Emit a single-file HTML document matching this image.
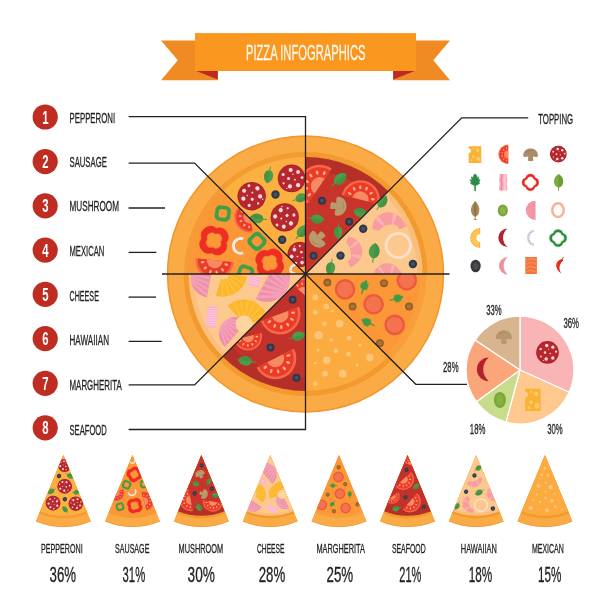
<!DOCTYPE html>
<html lang="en"><head><meta charset="utf-8"><title>Pizza Infographics</title>
<style>html,body{margin:0;padding:0;background:#fff}body{width:612px;height:612px;overflow:hidden}svg{display:block}text{font-family:"Liberation Sans",sans-serif}</style></head><body>
<svg width="612" height="612" viewBox="0 0 612 612">
<rect width="612" height="612" fill="#fff"/>
<defs>
<clipPath id="clip0"><path d="M305.5 274 L305.5 134.3 A139.7 139.7 0 0 1 404.28 175.22 Z"/></clipPath><clipPath id="clip1"><path d="M305.5 274 L404.28 175.22 A139.7 139.7 0 0 1 445.2 274 Z"/></clipPath><clipPath id="clip2"><path d="M305.5 274 L445.2 274 A139.7 139.7 0 0 1 404.28 372.78 Z"/></clipPath><clipPath id="clip3"><path d="M305.5 274 L404.28 372.78 A139.7 139.7 0 0 1 305.5 413.7 Z"/></clipPath><clipPath id="clip4"><path d="M305.5 274 L305.5 413.7 A139.7 139.7 0 0 1 206.72 372.78 Z"/></clipPath><clipPath id="clip5"><path d="M305.5 274 L206.72 372.78 A139.7 139.7 0 0 1 165.8 274 Z"/></clipPath><clipPath id="clip6"><path d="M305.5 274 L165.8 274 A139.7 139.7 0 0 1 206.72 175.22 Z"/></clipPath><clipPath id="clip7"><path d="M305.5 274 L206.72 175.22 A139.7 139.7 0 0 1 305.5 134.3 Z"/></clipPath><g id="sec0" clip-path="url(#clip0)"><circle cx="305.5" cy="274.0" r="138.7" fill="#f2952b"/><circle cx="305.5" cy="274.0" r="137.2" fill="#fbab45"/><circle cx="305.5" cy="274.0" r="122.0" fill="#f39a2f"/><circle cx="305.5" cy="274.0" r="117.0" fill="#b32f27"/><circle cx="305.5" cy="274.0" r="104" fill="#c8332a"/><g transform="translate(319.7 186) rotate(-55.6)"><path d="M-21.3 0 A21.3 21.3 0 0 1 21.3 0 Z" fill="#f4694a"/><path d="M-18.74 0 A18.74 18.74 0 0 1 18.74 0 Z" fill="#ee3a28"/><path d="M-8.95 0 A8.95 8.95 0 0 1 8.95 0 Z" fill="#f58a63"/><ellipse cx="-13.17" cy="-3.53" rx="1.28" ry="2.13" fill="#fbb58a" transform="rotate(-75 -13.17 -3.53)"/><ellipse cx="-9.64" cy="-9.64" rx="1.28" ry="2.13" fill="#fbb58a" transform="rotate(-45 -9.64 -9.64)"/><ellipse cx="-3.53" cy="-13.17" rx="1.28" ry="2.13" fill="#fbb58a" transform="rotate(-15 -3.53 -13.17)"/><ellipse cx="3.53" cy="-13.17" rx="1.28" ry="2.13" fill="#fbb58a" transform="rotate(15 3.53 -13.17)"/><ellipse cx="9.64" cy="-9.64" rx="1.28" ry="2.13" fill="#fbb58a" transform="rotate(45 9.64 -9.64)"/><ellipse cx="13.17" cy="-3.53" rx="1.28" ry="2.13" fill="#fbb58a" transform="rotate(75 13.17 -3.53)"/></g><g transform="translate(360.5 199.5) rotate(14)"><path d="M-19.3 0 A19.3 19.3 0 0 1 19.3 0 Z" fill="#f4694a"/><path d="M-16.98 0 A16.98 16.98 0 0 1 16.98 0 Z" fill="#ee3a28"/><path d="M-8.11 0 A8.11 8.11 0 0 1 8.11 0 Z" fill="#f58a63"/><ellipse cx="-11.93" cy="-3.2" rx="1.16" ry="1.93" fill="#fbb58a" transform="rotate(-75 -11.93 -3.2)"/><ellipse cx="-8.73" cy="-8.73" rx="1.16" ry="1.93" fill="#fbb58a" transform="rotate(-45 -8.73 -8.73)"/><ellipse cx="-3.2" cy="-11.93" rx="1.16" ry="1.93" fill="#fbb58a" transform="rotate(-15 -3.2 -11.93)"/><ellipse cx="3.2" cy="-11.93" rx="1.16" ry="1.93" fill="#fbb58a" transform="rotate(15 3.2 -11.93)"/><ellipse cx="8.73" cy="-8.73" rx="1.16" ry="1.93" fill="#fbb58a" transform="rotate(45 8.73 -8.73)"/><ellipse cx="11.93" cy="-3.2" rx="1.16" ry="1.93" fill="#fbb58a" transform="rotate(75 11.93 -3.2)"/></g><g transform="translate(338.2 206.3) rotate(97) scale(1.1)"><path d="M-2.6 1 L-3.2 6.2 C-3.3 7.6 3.3 7.6 3.2 6.2 L2.6 1Z" fill="#b89a6c"/><path d="M-8.5 1.2 C-9 -4.5 -4.5 -7.5 0 -7.5 C4.5 -7.5 9 -4.5 8.5 1.2 C8.4 2.6 5.5 2.8 3.2 2 C1.5 1.4 -1.5 1.4 -3.2 2 C-5.5 2.8 -8.4 2.6 -8.5 1.2Z" fill="#b89a6c"/><path d="M-5.5 -3 C-4 -5.5 1 -6.3 4 -4.5 C1 -5 -3 -4.5 -5.5 -3Z" fill="#a88a5e"/></g><g transform="translate(317.8 238.7) rotate(-133) scale(1.1)"><path d="M-2.6 1 L-3.2 6.2 C-3.3 7.6 3.3 7.6 3.2 6.2 L2.6 1Z" fill="#b89a6c"/><path d="M-8.5 1.2 C-9 -4.5 -4.5 -7.5 0 -7.5 C4.5 -7.5 9 -4.5 8.5 1.2 C8.4 2.6 5.5 2.8 3.2 2 C1.5 1.4 -1.5 1.4 -3.2 2 C-5.5 2.8 -8.4 2.6 -8.5 1.2Z" fill="#b89a6c"/><path d="M-5.5 -3 C-4 -5.5 1 -6.3 4 -4.5 C1 -5 -3 -4.5 -5.5 -3Z" fill="#a88a5e"/></g><g transform="translate(340.3 178.7) rotate(50) scale(0.95)"><path d="M0 -8 C4.5 -5.5 6 -1 5 3 C4 6.5 1.5 7.5 0 7.5 C-1.5 7.5 -4 6.5 -5 3 C-6 -1 -4.5 -5.5 0 -8Z" fill="#4c9c49"/><path d="M0 -8 C4.5 -5.5 6 -1 5 3 C4 6.5 1.5 7.5 0 7.5Z" fill="#3f8a3f" opacity=".55"/><path d="M0 6 L0 11.5" stroke="#4c9c49" stroke-width="1.1" fill="none" stroke-linecap="round"/></g><g transform="translate(317.5 219) rotate(97) scale(0.85)"><path d="M0 -8 C4.5 -5.5 6 -1 5 3 C4 6.5 1.5 7.5 0 7.5 C-1.5 7.5 -4 6.5 -5 3 C-6 -1 -4.5 -5.5 0 -8Z" fill="#4c9c49"/><path d="M0 -8 C4.5 -5.5 6 -1 5 3 C4 6.5 1.5 7.5 0 7.5Z" fill="#3f8a3f" opacity=".55"/><path d="M0 6 L0 11.5" stroke="#4c9c49" stroke-width="1.1" fill="none" stroke-linecap="round"/></g><g transform="translate(360 212.5) rotate(-75) scale(0.85)"><path d="M0 -8 C4.5 -5.5 6 -1 5 3 C4 6.5 1.5 7.5 0 7.5 C-1.5 7.5 -4 6.5 -5 3 C-6 -1 -4.5 -5.5 0 -8Z" fill="#4c9c49"/><path d="M0 -8 C4.5 -5.5 6 -1 5 3 C4 6.5 1.5 7.5 0 7.5Z" fill="#3f8a3f" opacity=".55"/><path d="M0 6 L0 11.5" stroke="#4c9c49" stroke-width="1.1" fill="none" stroke-linecap="round"/></g><g transform="translate(338.2 232.5) rotate(183) scale(0.8)"><path d="M0 -8 C4.5 -5.5 6 -1 5 3 C4 6.5 1.5 7.5 0 7.5 C-1.5 7.5 -4 6.5 -5 3 C-6 -1 -4.5 -5.5 0 -8Z" fill="#4c9c49"/><path d="M0 -8 C4.5 -5.5 6 -1 5 3 C4 6.5 1.5 7.5 0 7.5Z" fill="#3f8a3f" opacity=".55"/><path d="M0 6 L0 11.5" stroke="#4c9c49" stroke-width="1.1" fill="none" stroke-linecap="round"/></g><g transform="translate(383.5 202) rotate(35) scale(0.85)"><path d="M0 -8 C4.5 -5.5 6 -1 5 3 C4 6.5 1.5 7.5 0 7.5 C-1.5 7.5 -4 6.5 -5 3 C-6 -1 -4.5 -5.5 0 -8Z" fill="#4c9c49"/><path d="M0 -8 C4.5 -5.5 6 -1 5 3 C4 6.5 1.5 7.5 0 7.5Z" fill="#3f8a3f" opacity=".55"/><path d="M0 6 L0 11.5" stroke="#4c9c49" stroke-width="1.1" fill="none" stroke-linecap="round"/></g><circle cx="322" cy="200.7" r="4" fill="#2f3648"/><circle cx="322" cy="200.7" r="2" fill="#475069"/><circle cx="349.2" cy="221.8" r="4" fill="#2f3648"/><circle cx="349.2" cy="221.8" r="2" fill="#475069"/><circle cx="313.5" cy="255.8" r="4" fill="#2f3648"/><circle cx="313.5" cy="255.8" r="2" fill="#475069"/></g><g id="sec1" clip-path="url(#clip1)"><circle cx="305.5" cy="274.0" r="138.7" fill="#f2952b"/><circle cx="305.5" cy="274.0" r="137.2" fill="#fbab45"/><circle cx="305.5" cy="274.0" r="122.0" fill="#f39a2f"/><circle cx="305.5" cy="274.0" r="117.0" fill="#f9bd7c"/><circle cx="305.5" cy="274.0" r="112" fill="#fcc88e"/><g transform="translate(389.5 232.5)"><path d="M-16.52 -4.12 L-16.35 -5.95 L-15.96 -7.79 L-15.35 -9.59 L-14.52 -11.34 L-13.46 -13 L-12.19 -14.53 L-10.72 -15.9 L-9.08 -17.07 L-7.28 -18.03 L-5.37 -18.74 L-3.38 -19.19 L-1.36 -19.38 L0.67 -19.31 L2.67 -18.97 L4.58 -18.38 L6.39 -17.55 L8.06 -16.53 L9.57 -15.32 L10.9 -13.96 L12.05 -12.48 L13.04 -10.94 L14.11 -9.52 L15.03 -7.99 L15.79 -6.38 L10.18 -4.11 L9.69 -5.15 L9.1 -6.14 L8.41 -7.05 L7.4 -7.66 L6.33 -8.11 L5.27 -8.43 L4.21 -8.64 L3.19 -8.76 L2.19 -8.79 L1.23 -8.76 L0.3 -8.68 L-0.6 -8.55 L-1.48 -8.38 L-2.34 -8.18 L-3.21 -7.93 L-4.07 -7.65 L-4.93 -7.32 L-5.81 -6.92 L-6.68 -6.45 L-7.54 -5.89 L-8.39 -5.24 L-9.2 -4.49 L-9.96 -3.63 L-10.65 -2.66Z" fill="#f89d9f" stroke="#f89d9f" stroke-width="1.6" stroke-linejoin="round"/><path d="M-14.09 -13.05 L-10.8 -15.87 L-4.56 -7.52 L-6.14 -6.31Z" fill="#fbb6b3" opacity=".8"/><path d="M3.47 -18.88 L7.61 -17.63 L3.91 -7.88 L2.04 -8.56Z" fill="#fbb6b3" opacity=".8"/></g><g transform="translate(343 252.5)"><path d="M6.09 -15.07 L7.62 -14.74 L9.13 -14.24 L10.61 -13.58 L12.03 -12.75 L13.36 -11.75 L14.58 -10.59 L15.66 -9.29 L16.59 -7.85 L17.34 -6.31 L17.89 -4.68 L18.25 -3 L18.39 -1.29 L18.33 0.43 L18.06 2.11 L17.6 3.74 L16.95 5.29 L16.14 6.74 L15.18 8.07 L14.1 9.27 L12.92 10.34 L11.69 11.29 L10.59 12.33 L9.4 13.26 L8.12 14.07 L5.37 9.31 L6.22 8.77 L7.01 8.15 L7.73 7.47 L8.16 6.53 L8.46 5.56 L8.66 4.6 L8.78 3.67 L8.82 2.75 L8.81 1.87 L8.76 1.02 L8.66 0.2 L8.54 -0.6 L8.4 -1.38 L8.23 -2.15 L8.04 -2.93 L7.82 -3.7 L7.56 -4.49 L7.27 -5.28 L6.92 -6.08 L6.5 -6.89 L6.01 -7.7 L5.44 -8.49 L4.78 -9.25 L4.03 -9.97Z" fill="#f89d9f" stroke="#f89d9f" stroke-width="1.6" stroke-linejoin="round"/><path d="M13.44 -12.27 L15.62 -9.34 L7.78 -4.12 L6.8 -5.59Z" fill="#fbb6b3" opacity=".8"/><path d="M17.99 2.78 L17.07 6.32 L8.08 3.48 L8.61 1.8Z" fill="#fbb6b3" opacity=".8"/></g><g transform="translate(388 282)"><path d="M-13.64 -7.88 L-13.18 -9.23 L-12.58 -10.55 L-11.83 -11.83 L-10.94 -13.04 L-9.92 -14.16 L-8.76 -15.17 L-7.48 -16.05 L-6.11 -16.77 L-4.65 -17.34 L-3.12 -17.72 L-1.57 -17.92 L0 -17.94 L1.55 -17.77 L3.07 -17.42 L4.53 -16.89 L5.9 -16.21 L7.18 -15.4 L8.35 -14.46 L9.39 -13.41 L10.31 -12.29 L11.14 -11.14 L12.07 -10.12 L12.9 -9.03 L13.64 -7.88 L8.88 -5.13 L8.4 -5.88 L7.85 -6.59 L7.25 -7.25 L6.4 -7.63 L5.52 -7.88 L4.65 -8.06 L3.81 -8.17 L2.99 -8.22 L2.2 -8.22 L1.44 -8.19 L0.71 -8.13 L0 -8.06 L-0.7 -7.98 L-1.39 -7.88 L-2.08 -7.78 L-2.79 -7.66 L-3.51 -7.52 L-4.24 -7.35 L-5 -7.14 L-5.77 -6.88 L-6.55 -6.55 L-7.34 -6.16 L-8.12 -5.69 L-8.88 -5.13Z" fill="#f89d9f" stroke="#f89d9f" stroke-width="1.6" stroke-linejoin="round"/><path d="M-10.4 -14.32 L-7.54 -16.02 L-3.14 -7.68 L-4.52 -6.96Z" fill="#fbb6b3" opacity=".8"/><path d="M3.68 -17.31 L6.86 -16.32 L3.61 -7.47 L2.15 -8.02Z" fill="#fbb6b3" opacity=".8"/></g><circle cx="398.3" cy="245.5" r="12.15" fill="none" stroke="#fde0c6" stroke-width="2.9"/><g transform="translate(374.3 250.8) rotate(8)"><path d="M0 -8 C4.5 -5.5 6 -1 5 3 C4 6.5 1.5 7.5 0 7.5 C-1.5 7.5 -4 6.5 -5 3 C-6 -1 -4.5 -5.5 0 -8Z" fill="#4c9c49"/><path d="M0 -8 C4.5 -5.5 6 -1 5 3 C4 6.5 1.5 7.5 0 7.5Z" fill="#3f8a3f" opacity=".55"/><path d="M0 6 L0 11.5" stroke="#4c9c49" stroke-width="1.1" fill="none" stroke-linecap="round"/></g><g transform="translate(382.5 201.5) rotate(35) scale(0.85)"><path d="M0 -8 C4.5 -5.5 6 -1 5 3 C4 6.5 1.5 7.5 0 7.5 C-1.5 7.5 -4 6.5 -5 3 C-6 -1 -4.5 -5.5 0 -8Z" fill="#4c9c49"/><path d="M0 -8 C4.5 -5.5 6 -1 5 3 C4 6.5 1.5 7.5 0 7.5Z" fill="#3f8a3f" opacity=".55"/><path d="M0 6 L0 11.5" stroke="#4c9c49" stroke-width="1.1" fill="none" stroke-linecap="round"/></g><g transform="translate(330.5 268.6) rotate(190) scale(0.85)"><path d="M0 -8 C4.5 -5.5 6 -1 5 3 C4 6.5 1.5 7.5 0 7.5 C-1.5 7.5 -4 6.5 -5 3 C-6 -1 -4.5 -5.5 0 -8Z" fill="#4c9c49"/><path d="M0 -8 C4.5 -5.5 6 -1 5 3 C4 6.5 1.5 7.5 0 7.5Z" fill="#3f8a3f" opacity=".55"/><path d="M0 6 L0 11.5" stroke="#4c9c49" stroke-width="1.1" fill="none" stroke-linecap="round"/></g><circle cx="363.2" cy="228.8" r="4.2" fill="#2f3648"/><circle cx="363.2" cy="228.8" r="2.1" fill="#475069"/><circle cx="412.9" cy="264" r="4.2" fill="#2f3648"/><circle cx="412.9" cy="264" r="2.1" fill="#475069"/><circle cx="340.5" cy="255.6" r="4.2" fill="#2f3648"/><circle cx="340.5" cy="255.6" r="2.1" fill="#475069"/></g><g id="sec2" clip-path="url(#clip2)"><circle cx="305.5" cy="274.0" r="138.7" fill="#f2952b"/><circle cx="305.5" cy="274.0" r="137.2" fill="#fbab45"/><circle cx="305.5" cy="274.0" r="121" fill="#f89f3c"/><circle cx="305.5" cy="274.0" r="114.5" fill="#fb9737"/><circle cx="345" cy="289.4" r="10.3" fill="#ea5a3c"/><circle cx="345" cy="289.4" r="7.93" fill="#f5724f"/><circle cx="373.6" cy="304.3" r="10.3" fill="#ea5a3c"/><circle cx="373.6" cy="304.3" r="7.93" fill="#f5724f"/><circle cx="394.7" cy="324.9" r="10.3" fill="#ea5a3c"/><circle cx="394.7" cy="324.9" r="7.93" fill="#f5724f"/><circle cx="406.8" cy="280.3" r="10.3" fill="#ea5a3c"/><circle cx="406.8" cy="280.3" r="7.93" fill="#f5724f"/><circle cx="327.4" cy="282.6" r="4" fill="#93602a"/><circle cx="327.4" cy="282.6" r="2.2" fill="#a8743a"/><circle cx="384" cy="283.3" r="4" fill="#93602a"/><circle cx="384" cy="283.3" r="2.2" fill="#a8743a"/><circle cx="352.6" cy="306.6" r="4" fill="#93602a"/><circle cx="352.6" cy="306.6" r="2.2" fill="#a8743a"/><circle cx="409" cy="306.6" r="4" fill="#93602a"/><circle cx="409" cy="306.6" r="2.2" fill="#a8743a"/><circle cx="379.8" cy="343.2" r="4" fill="#93602a"/><circle cx="379.8" cy="343.2" r="2.2" fill="#a8743a"/><g transform="translate(364 287) rotate(20) scale(0.82)"><path d="M0 -8.6 L1.3 -7.2 L2 -5.6 L1.7 -4.6 L3.9 -5.4 L3.4 -3.4 L2.9 -2.4 L5 -2.8 L4.3 -0.9 L3.4 0.2 L4.9 0.6 L3.4 2 L1.6 2.8 L0.55 3.6 L0.5 8.6 L-0.5 8.6 L-0.55 3.6 L-1.6 2.8 L-3.4 2 L-4.9 0.6 L-3.4 0.2 L-4.3 -0.9 L-5 -2.8 L-2.9 -2.4 L-3.4 -3.4 L-3.9 -5.4 L-1.7 -4.6 L-2 -5.6 L-1.3 -7.2 L0 -8.6Z" fill="#3d9a45" stroke="#3d9a45" stroke-width="0.5" stroke-linejoin="round"/></g><g transform="translate(396.5 298.6) rotate(75) scale(0.8)"><path d="M0 -8.6 L1.3 -7.2 L2 -5.6 L1.7 -4.6 L3.9 -5.4 L3.4 -3.4 L2.9 -2.4 L5 -2.8 L4.3 -0.9 L3.4 0.2 L4.9 0.6 L3.4 2 L1.6 2.8 L0.55 3.6 L0.5 8.6 L-0.5 8.6 L-0.55 3.6 L-1.6 2.8 L-3.4 2 L-4.9 0.6 L-3.4 0.2 L-4.3 -0.9 L-5 -2.8 L-2.9 -2.4 L-3.4 -3.4 L-3.9 -5.4 L-1.7 -4.6 L-2 -5.6 L-1.3 -7.2 L0 -8.6Z" fill="#3d9a45" stroke="#3d9a45" stroke-width="0.5" stroke-linejoin="round"/></g><g transform="translate(368 322.6) rotate(-65) scale(0.82)"><path d="M0 -8.6 L1.3 -7.2 L2 -5.6 L1.7 -4.6 L3.9 -5.4 L3.4 -3.4 L2.9 -2.4 L5 -2.8 L4.3 -0.9 L3.4 0.2 L4.9 0.6 L3.4 2 L1.6 2.8 L0.55 3.6 L0.5 8.6 L-0.5 8.6 L-0.55 3.6 L-1.6 2.8 L-3.4 2 L-4.9 0.6 L-3.4 0.2 L-4.3 -0.9 L-5 -2.8 L-2.9 -2.4 L-3.4 -3.4 L-3.9 -5.4 L-1.7 -4.6 L-2 -5.6 L-1.3 -7.2 L0 -8.6Z" fill="#3d9a45" stroke="#3d9a45" stroke-width="0.5" stroke-linejoin="round"/></g></g><g id="sec3" clip-path="url(#clip3)"><circle cx="305.5" cy="274.0" r="138.7" fill="#f2952b"/><circle cx="305.5" cy="274.0" r="137.2" fill="#fbab45"/><circle cx="305.5" cy="274.0" r="122.0" fill="#f39a2f"/><circle cx="305.5" cy="274.0" r="117.0" fill="#fbab40"/><circle cx="315.3" cy="297.45" r="2.85" fill="#fcc578"/><circle cx="326.28" cy="306.6" r="2.85" fill="#fcc578"/><circle cx="315.3" cy="312.32" r="2.38" fill="#fcc578"/><circle cx="339.77" cy="323.76" r="3.8" fill="#fcc578"/><circle cx="324.45" cy="323.76" r="2.38" fill="#fcc578"/><circle cx="318.73" cy="335.2" r="4.27" fill="#fcc578"/><circle cx="348.93" cy="338.18" r="2.38" fill="#fcc578"/><circle cx="331.31" cy="339.78" r="1.9" fill="#fcc578"/><circle cx="335.89" cy="350.76" r="2.38" fill="#fcc578"/><circle cx="318.04" cy="350.07" r="1.42" fill="#fcc578"/><circle cx="348.47" cy="354.19" r="2.38" fill="#fcc578"/><circle cx="369.74" cy="357.62" r="3.8" fill="#fcc578"/><circle cx="326.73" cy="360.37" r="3.8" fill="#fcc578"/><circle cx="315.3" cy="363.11" r="1.42" fill="#fcc578"/><circle cx="357.16" cy="364.94" r="1.42" fill="#fcc578"/><circle cx="342.75" cy="373.64" r="3.8" fill="#fcc578"/><circle cx="325.13" cy="373.64" r="2.85" fill="#fcc578"/><circle cx="315.3" cy="383.7" r="2.38" fill="#fcc578"/><circle cx="359.91" cy="345.5" r="1.71" fill="#fcc578"/><circle cx="332.45" cy="311.18" r="1.42" fill="#fcc578"/></g><g id="sec4" clip-path="url(#clip4)"><circle cx="305.5" cy="274.0" r="138.7" fill="#f2952b"/><circle cx="305.5" cy="274.0" r="137.2" fill="#fbab45"/><circle cx="305.5" cy="274.0" r="122.0" fill="#f39a2f"/><circle cx="305.5" cy="274.0" r="117.0" fill="#b32f27"/><circle cx="305.5" cy="274.0" r="104" fill="#c2322a"/><g transform="translate(280 314) rotate(159)"><path d="M-20.5 0 A20.5 20.5 0 0 1 20.5 0 Z" fill="#f4694a"/><path d="M-18.04 0 A18.04 18.04 0 0 1 18.04 0 Z" fill="#ee3a28"/><path d="M-8.61 0 A8.61 8.61 0 0 1 8.61 0 Z" fill="#f58a63"/><ellipse cx="-12.67" cy="-3.4" rx="1.23" ry="2.05" fill="#fbb58a" transform="rotate(-75 -12.67 -3.4)"/><ellipse cx="-9.28" cy="-9.28" rx="1.23" ry="2.05" fill="#fbb58a" transform="rotate(-45 -9.28 -9.28)"/><ellipse cx="-3.4" cy="-12.67" rx="1.23" ry="2.05" fill="#fbb58a" transform="rotate(-15 -3.4 -12.67)"/><ellipse cx="3.4" cy="-12.67" rx="1.23" ry="2.05" fill="#fbb58a" transform="rotate(15 3.4 -12.67)"/><ellipse cx="9.28" cy="-9.28" rx="1.23" ry="2.05" fill="#fbb58a" transform="rotate(45 9.28 -9.28)"/><ellipse cx="12.67" cy="-3.4" rx="1.23" ry="2.05" fill="#fbb58a" transform="rotate(75 12.67 -3.4)"/></g><g transform="translate(248 336.5) rotate(166)"><path d="M-14 0 A14 14 0 0 1 14 0 Z" fill="#f4694a"/><path d="M-12.32 0 A12.32 12.32 0 0 1 12.32 0 Z" fill="#ee3a28"/><path d="M-5.88 0 A5.88 5.88 0 0 1 5.88 0 Z" fill="#f58a63"/><ellipse cx="-8.65" cy="-2.32" rx="0.84" ry="1.4" fill="#fbb58a" transform="rotate(-75 -8.65 -2.32)"/><ellipse cx="-6.34" cy="-6.34" rx="0.84" ry="1.4" fill="#fbb58a" transform="rotate(-45 -6.34 -6.34)"/><ellipse cx="-2.32" cy="-8.65" rx="0.84" ry="1.4" fill="#fbb58a" transform="rotate(-15 -2.32 -8.65)"/><ellipse cx="2.32" cy="-8.65" rx="0.84" ry="1.4" fill="#fbb58a" transform="rotate(15 2.32 -8.65)"/><ellipse cx="6.34" cy="-6.34" rx="0.84" ry="1.4" fill="#fbb58a" transform="rotate(45 6.34 -6.34)"/><ellipse cx="8.65" cy="-2.32" rx="0.84" ry="1.4" fill="#fbb58a" transform="rotate(75 8.65 -2.32)"/></g><g transform="translate(275.3 358.3) rotate(153)"><path d="M-21 0 A21 21 0 0 1 21 0 Z" fill="#f4694a"/><path d="M-18.48 0 A18.48 18.48 0 0 1 18.48 0 Z" fill="#ee3a28"/><path d="M-8.82 0 A8.82 8.82 0 0 1 8.82 0 Z" fill="#f58a63"/><ellipse cx="-12.98" cy="-3.48" rx="1.26" ry="2.1" fill="#fbb58a" transform="rotate(-75 -12.98 -3.48)"/><ellipse cx="-9.5" cy="-9.5" rx="1.26" ry="2.1" fill="#fbb58a" transform="rotate(-45 -9.5 -9.5)"/><ellipse cx="-3.48" cy="-12.98" rx="1.26" ry="2.1" fill="#fbb58a" transform="rotate(-15 -3.48 -12.98)"/><ellipse cx="3.48" cy="-12.98" rx="1.26" ry="2.1" fill="#fbb58a" transform="rotate(15 3.48 -12.98)"/><ellipse cx="9.5" cy="-9.5" rx="1.26" ry="2.1" fill="#fbb58a" transform="rotate(45 9.5 -9.5)"/><ellipse cx="12.98" cy="-3.48" rx="1.26" ry="2.1" fill="#fbb58a" transform="rotate(75 12.98 -3.48)"/></g><g transform="translate(303 293.4) rotate(40)"><path d="M-15 0 A15 15 0 0 1 15 0 Z" fill="#f4694a"/><path d="M-13.2 0 A13.2 13.2 0 0 1 13.2 0 Z" fill="#ee3a28"/><path d="M-6.3 0 A6.3 6.3 0 0 1 6.3 0 Z" fill="#f58a63"/><ellipse cx="-9.27" cy="-2.48" rx="0.9" ry="1.5" fill="#fbb58a" transform="rotate(-75 -9.27 -2.48)"/><ellipse cx="-6.79" cy="-6.79" rx="0.9" ry="1.5" fill="#fbb58a" transform="rotate(-45 -6.79 -6.79)"/><ellipse cx="-2.48" cy="-9.27" rx="0.9" ry="1.5" fill="#fbb58a" transform="rotate(-15 -2.48 -9.27)"/><ellipse cx="2.48" cy="-9.27" rx="0.9" ry="1.5" fill="#fbb58a" transform="rotate(15 2.48 -9.27)"/><ellipse cx="6.79" cy="-6.79" rx="0.9" ry="1.5" fill="#fbb58a" transform="rotate(45 6.79 -6.79)"/><ellipse cx="9.27" cy="-2.48" rx="0.9" ry="1.5" fill="#fbb58a" transform="rotate(75 9.27 -2.48)"/></g><circle cx="292.6" cy="299.7" r="4" fill="#2f3648"/><circle cx="292.6" cy="299.7" r="2" fill="#475069"/><circle cx="270.5" cy="347.6" r="4" fill="#2f3648"/><circle cx="270.5" cy="347.6" r="2" fill="#475069"/><circle cx="296.5" cy="377.8" r="4" fill="#2f3648"/><circle cx="296.5" cy="377.8" r="2" fill="#475069"/><g transform="translate(298.5 336.1) rotate(75) scale(0.85)"><path d="M0 -8 C4.5 -5.5 6 -1 5 3 C4 6.5 1.5 7.5 0 7.5 C-1.5 7.5 -4 6.5 -5 3 C-6 -1 -4.5 -5.5 0 -8Z" fill="#4c9c49"/><path d="M0 -8 C4.5 -5.5 6 -1 5 3 C4 6.5 1.5 7.5 0 7.5Z" fill="#3f8a3f" opacity=".55"/><path d="M0 6 L0 11.5" stroke="#4c9c49" stroke-width="1.1" fill="none" stroke-linecap="round"/></g><g transform="translate(245 360.8) rotate(-82) scale(0.9)"><path d="M0 -8 C4.5 -5.5 6 -1 5 3 C4 6.5 1.5 7.5 0 7.5 C-1.5 7.5 -4 6.5 -5 3 C-6 -1 -4.5 -5.5 0 -8Z" fill="#4c9c49"/><path d="M0 -8 C4.5 -5.5 6 -1 5 3 C4 6.5 1.5 7.5 0 7.5Z" fill="#3f8a3f" opacity=".55"/><path d="M0 6 L0 11.5" stroke="#4c9c49" stroke-width="1.1" fill="none" stroke-linecap="round"/></g></g><g id="sec5" clip-path="url(#clip5)"><circle cx="305.5" cy="274.0" r="138.7" fill="#f2952b"/><circle cx="305.5" cy="274.0" r="137.2" fill="#fbab45"/><circle cx="305.5" cy="274.0" r="122.0" fill="#f39a2f"/><circle cx="305.5" cy="274.0" r="117.0" fill="#fbbf7e"/><circle cx="305.5" cy="274.0" r="112" fill="#fdc98f"/><g transform="translate(210.5 278.2) rotate(-79)"><clipPath id="hc78571"><path d="M-19.6 0 A19.6 19.6 0 0 1 19.6 0 Z"/></clipPath><path d="M-19.6 0 A19.6 19.6 0 0 1 19.6 0 Z" fill="#ee8fa8"/><g clip-path="url(#hc78571)"><path d="M-17.64 0 L-6.17 -19.6" stroke="#f4a6bd" stroke-width="2.55" fill="none" opacity=".75"/><path d="M-11.76 0 L-4.12 -19.6" stroke="#f4a6bd" stroke-width="2.55" fill="none" opacity=".75"/><path d="M-5.88 0 L-2.06 -19.6" stroke="#f4a6bd" stroke-width="2.55" fill="none" opacity=".75"/><path d="M0 0 L0 -19.6" stroke="#f4a6bd" stroke-width="2.55" fill="none" opacity=".75"/><path d="M5.88 0 L2.06 -19.6" stroke="#f4a6bd" stroke-width="2.55" fill="none" opacity=".75"/><path d="M11.76 0 L4.12 -19.6" stroke="#f4a6bd" stroke-width="2.55" fill="none" opacity=".75"/><path d="M17.64 0 L6.17 -19.6" stroke="#f4a6bd" stroke-width="2.55" fill="none" opacity=".75"/></g></g><g transform="translate(266.8 278.8) rotate(119)"><clipPath id="hc23647"><path d="M-23 0 A23 23 0 0 1 23 0 Z"/></clipPath><path d="M-23 0 A23 23 0 0 1 23 0 Z" fill="#ee8fa8"/><g clip-path="url(#hc23647)"><path d="M-20.7 0 L-7.24 -23" stroke="#f4a6bd" stroke-width="2.99" fill="none" opacity=".75"/><path d="M-13.8 0 L-4.83 -23" stroke="#f4a6bd" stroke-width="2.99" fill="none" opacity=".75"/><path d="M-6.9 0 L-2.41 -23" stroke="#f4a6bd" stroke-width="2.99" fill="none" opacity=".75"/><path d="M0 0 L0 -23" stroke="#f4a6bd" stroke-width="2.99" fill="none" opacity=".75"/><path d="M6.9 0 L2.41 -23" stroke="#f4a6bd" stroke-width="2.99" fill="none" opacity=".75"/><path d="M13.8 0 L4.83 -23" stroke="#f4a6bd" stroke-width="2.99" fill="none" opacity=".75"/><path d="M20.7 0 L7.24 -23" stroke="#f4a6bd" stroke-width="2.99" fill="none" opacity=".75"/></g></g><g transform="translate(236 334) rotate(-50)"><clipPath id="hc45052"><path d="M-17 0 A17 17 0 0 1 17 0 Z"/></clipPath><path d="M-17 0 A17 17 0 0 1 17 0 Z" fill="#ee8fa8"/><g clip-path="url(#hc45052)"><path d="M-15.3 0 L-5.35 -17" stroke="#f4a6bd" stroke-width="2.21" fill="none" opacity=".75"/><path d="M-10.2 0 L-3.57 -17" stroke="#f4a6bd" stroke-width="2.21" fill="none" opacity=".75"/><path d="M-5.1 0 L-1.78 -17" stroke="#f4a6bd" stroke-width="2.21" fill="none" opacity=".75"/><path d="M0 0 L0 -17" stroke="#f4a6bd" stroke-width="2.21" fill="none" opacity=".75"/><path d="M5.1 0 L1.78 -17" stroke="#f4a6bd" stroke-width="2.21" fill="none" opacity=".75"/><path d="M10.2 0 L3.57 -17" stroke="#f4a6bd" stroke-width="2.21" fill="none" opacity=".75"/><path d="M15.3 0 L5.35 -17" stroke="#f4a6bd" stroke-width="2.21" fill="none" opacity=".75"/></g></g><g transform="translate(222.9 272.6)"><path d="M23.83 4.2 A24.2 24.2 0 0 1 -7.08 23.14 L-2.05 6.69 A7 7 0 0 0 6.89 1.22 Z" fill="#fcb72c" /><path d="M21 10.32 L7 3.44" stroke="#fdc449" stroke-width="1.2" fill="none"/><path d="M17.3 15.76 L5.77 5.25" stroke="#fdc449" stroke-width="1.2" fill="none"/><path d="M12.23 19.95 L4.08 6.65" stroke="#fdc449" stroke-width="1.2" fill="none"/><path d="M6.19 22.57 L2.06 7.52" stroke="#fdc449" stroke-width="1.2" fill="none"/><path d="M-0.34 23.4 L-0.11 7.8" stroke="#fdc449" stroke-width="1.2" fill="none"/></g><g transform="translate(244 324)"><path d="M-16.39 -18.21 A24.5 24.5 0 0 1 24.13 -4.25 L8.27 -1.46 A8.4 8.4 0 0 0 -5.62 -6.24 Z" fill="#fcb72c" /><path d="M-9.86 -21.55 L-3.83 -8.37" stroke="#fdc449" stroke-width="1.2" fill="none"/><path d="M-2.95 -23.52 L-1.14 -9.13" stroke="#fdc449" stroke-width="1.2" fill="none"/><path d="M4.23 -23.32 L1.64 -9.05" stroke="#fdc449" stroke-width="1.2" fill="none"/><path d="M11.02 -20.98 L4.28 -8.14" stroke="#fdc449" stroke-width="1.2" fill="none"/><path d="M16.8 -16.72 L6.52 -6.49" stroke="#fdc449" stroke-width="1.2" fill="none"/><path d="M21.04 -10.92 L8.17 -4.24" stroke="#fdc449" stroke-width="1.2" fill="none"/></g><circle cx="244" cy="324" r="8.4" fill="#fed59d"/><g transform="translate(254.3 281.2) rotate(20)"><rect x="-5.5" y="-5" width="11" height="10" rx="0.8" fill="#f9b3d0"/><path d="M-5 -2.5 L5 -3.1" stroke="#fbc8dc" stroke-width="0.9"/><path d="M-5 0 L5 -0.6" stroke="#fbc8dc" stroke-width="0.9"/><path d="M-5 2.5 L5 1.9" stroke="#fbc8dc" stroke-width="0.9"/></g><g transform="translate(211.7 316.9) rotate(5)"><rect x="-5" y="-10.5" width="10" height="21" rx="0.8" fill="#f9b3d0"/><path d="M-4.5 -8.17 L4.5 -8.77" stroke="#fbc8dc" stroke-width="0.9"/><path d="M-4.5 -5.83 L4.5 -6.43" stroke="#fbc8dc" stroke-width="0.9"/><path d="M-4.5 -3.5 L4.5 -4.1" stroke="#fbc8dc" stroke-width="0.9"/><path d="M-4.5 -1.17 L4.5 -1.77" stroke="#fbc8dc" stroke-width="0.9"/><path d="M-4.5 1.17 L4.5 0.57" stroke="#fbc8dc" stroke-width="0.9"/><path d="M-4.5 3.5 L4.5 2.9" stroke="#fbc8dc" stroke-width="0.9"/><path d="M-4.5 5.83 L4.5 5.23" stroke="#fbc8dc" stroke-width="0.9"/><path d="M-4.5 8.17 L4.5 7.57" stroke="#fbc8dc" stroke-width="0.9"/></g></g><g id="sec6" clip-path="url(#clip6)"><circle cx="305.5" cy="274.0" r="138.7" fill="#f2952b"/><circle cx="305.5" cy="274.0" r="137.2" fill="#fbab45"/><circle cx="305.5" cy="274.0" r="121.5" fill="#f59a36"/><circle cx="305.5" cy="274.0" r="116" fill="#fb9737"/><g transform="translate(250 217) rotate(-100)"><path d="M-15.6 0 A15.6 15.6 0 0 1 15.6 0 Z" fill="#f4694a"/><path d="M-13.73 0 A13.73 13.73 0 0 1 13.73 0 Z" fill="#ee3a28"/><path d="M-6.55 0 A6.55 6.55 0 0 1 6.55 0 Z" fill="#f58a63"/><ellipse cx="-9.64" cy="-2.58" rx="0.94" ry="1.56" fill="#fbb58a" transform="rotate(-75 -9.64 -2.58)"/><ellipse cx="-7.06" cy="-7.06" rx="0.94" ry="1.56" fill="#fbb58a" transform="rotate(-45 -7.06 -7.06)"/><ellipse cx="-2.58" cy="-9.64" rx="0.94" ry="1.56" fill="#fbb58a" transform="rotate(-15 -2.58 -9.64)"/><ellipse cx="2.58" cy="-9.64" rx="0.94" ry="1.56" fill="#fbb58a" transform="rotate(15 2.58 -9.64)"/><ellipse cx="7.06" cy="-7.06" rx="0.94" ry="1.56" fill="#fbb58a" transform="rotate(45 7.06 -7.06)"/><ellipse cx="9.64" cy="-2.58" rx="0.94" ry="1.56" fill="#fbb58a" transform="rotate(75 9.64 -2.58)"/></g><g transform="translate(214.8 260.2) rotate(186)"><path d="M-19.2 0 A19.2 19.2 0 0 1 19.2 0 Z" fill="#f4694a"/><path d="M-16.9 0 A16.9 16.9 0 0 1 16.9 0 Z" fill="#ee3a28"/><path d="M-8.06 0 A8.06 8.06 0 0 1 8.06 0 Z" fill="#f58a63"/><ellipse cx="-11.87" cy="-3.18" rx="1.15" ry="1.92" fill="#fbb58a" transform="rotate(-75 -11.87 -3.18)"/><ellipse cx="-8.69" cy="-8.69" rx="1.15" ry="1.92" fill="#fbb58a" transform="rotate(-45 -8.69 -8.69)"/><ellipse cx="-3.18" cy="-11.87" rx="1.15" ry="1.92" fill="#fbb58a" transform="rotate(-15 -3.18 -11.87)"/><ellipse cx="3.18" cy="-11.87" rx="1.15" ry="1.92" fill="#fbb58a" transform="rotate(15 3.18 -11.87)"/><ellipse cx="8.69" cy="-8.69" rx="1.15" ry="1.92" fill="#fbb58a" transform="rotate(45 8.69 -8.69)"/><ellipse cx="11.87" cy="-3.18" rx="1.15" ry="1.92" fill="#fbb58a" transform="rotate(75 11.87 -3.18)"/></g><g transform="translate(222.8 213.5) rotate(8)"><path d="M7.65 0 L7.65 0.67 L7.67 1.35 L7.67 2.05 L7.63 2.78 L7.54 3.52 L7.37 4.26 L7.1 4.97 L6.71 5.63 L6.22 6.22 L5.63 6.71 L4.97 7.1 L4.26 7.37 L3.52 7.54 L2.78 7.63 L2.05 7.67 L1.35 7.67 L0.67 7.65 L0 7.65 L-0.67 7.65 L-1.35 7.67 L-2.05 7.67 L-2.78 7.63 L-3.52 7.54 L-4.26 7.37 L-4.97 7.1 L-5.63 6.71 L-6.22 6.22 L-6.71 5.63 L-7.1 4.97 L-7.37 4.26 L-7.54 3.52 L-7.63 2.78 L-7.67 2.05 L-7.67 1.35 L-7.65 0.67 L-7.65 0 L-7.65 -0.67 L-7.67 -1.35 L-7.67 -2.05 L-7.63 -2.78 L-7.54 -3.52 L-7.37 -4.26 L-7.1 -4.97 L-6.71 -5.63 L-6.22 -6.22 L-5.63 -6.71 L-4.97 -7.1 L-4.26 -7.37 L-3.52 -7.54 L-2.78 -7.63 L-2.05 -7.67 L-1.35 -7.67 L-0.67 -7.65 L-0 -7.65 L0.67 -7.65 L1.35 -7.67 L2.05 -7.67 L2.78 -7.63 L3.52 -7.54 L4.26 -7.37 L4.97 -7.1 L5.63 -6.71 L6.22 -6.22 L6.71 -5.63 L7.1 -4.97 L7.37 -4.26 L7.54 -3.52 L7.63 -2.78 L7.67 -2.05 L7.67 -1.35 L7.65 -0.67Z M4.43 0 L4.44 0.39 L4.44 0.78 L4.44 1.19 L4.42 1.61 L4.37 2.04 L4.27 2.47 L4.11 2.88 L3.89 3.27 L3.61 3.61 L3.27 3.89 L2.88 4.11 L2.47 4.27 L2.04 4.37 L1.61 4.42 L1.19 4.44 L0.78 4.44 L0.39 4.44 L0 4.43 L-0.39 4.44 L-0.78 4.44 L-1.19 4.44 L-1.61 4.42 L-2.04 4.37 L-2.47 4.27 L-2.88 4.11 L-3.27 3.89 L-3.61 3.61 L-3.89 3.27 L-4.11 2.88 L-4.27 2.47 L-4.37 2.04 L-4.42 1.61 L-4.44 1.19 L-4.44 0.78 L-4.44 0.39 L-4.43 0 L-4.44 -0.39 L-4.44 -0.78 L-4.44 -1.19 L-4.42 -1.61 L-4.37 -2.04 L-4.27 -2.47 L-4.11 -2.88 L-3.89 -3.27 L-3.61 -3.61 L-3.27 -3.89 L-2.88 -4.11 L-2.47 -4.27 L-2.04 -4.37 L-1.61 -4.42 L-1.19 -4.44 L-0.78 -4.44 L-0.39 -4.44 L-0 -4.43 L0.39 -4.44 L0.78 -4.44 L1.19 -4.44 L1.61 -4.42 L2.04 -4.37 L2.47 -4.27 L2.88 -4.11 L3.27 -3.89 L3.61 -3.61 L3.89 -3.27 L4.11 -2.88 L4.27 -2.47 L4.37 -2.04 L4.42 -1.61 L4.44 -1.19 L4.44 -0.78 L4.44 -0.39Z" fill="#3da04b" fill-rule="evenodd" stroke="#3da04b" stroke-width="0.4" stroke-linejoin="round"/></g><g transform="translate(214 240.6) rotate(55)"><path d="M8.84 -8.84 A9.24 9.24 0 0 1 8.84 8.84 A9.24 9.24 0 0 1 -8.84 8.84 A9.24 9.24 0 0 1 -8.84 -8.84 A9.24 9.24 0 0 1 8.84 -8.84 Z M4.95 -4.95 A5.1 5.1 0 0 1 4.95 4.95 A5.1 5.1 0 0 1 -4.95 4.95 A5.1 5.1 0 0 1 -4.95 -4.95 A5.1 5.1 0 0 1 4.95 -4.95 Z" fill="#ee2d24" fill-rule="evenodd" stroke="#ee2d24" stroke-width="0.4" stroke-linejoin="round"/></g><g transform="translate(257 241.4) rotate(45)"><path d="M8.01 0 L8.02 0.7 L8.05 1.42 L8.07 2.16 L8.07 2.94 L8 3.73 L7.84 4.53 L7.57 5.3 L7.17 6.02 L6.65 6.65 L6.02 7.17 L5.3 7.57 L4.53 7.84 L3.73 8 L2.94 8.07 L2.16 8.07 L1.42 8.05 L0.7 8.02 L0 8.01 L-0.7 8.02 L-1.42 8.05 L-2.16 8.07 L-2.94 8.07 L-3.73 8 L-4.53 7.84 L-5.3 7.57 L-6.02 7.17 L-6.65 6.65 L-7.17 6.02 L-7.57 5.3 L-7.84 4.53 L-8 3.73 L-8.07 2.94 L-8.07 2.16 L-8.05 1.42 L-8.02 0.7 L-8.01 0 L-8.02 -0.7 L-8.05 -1.42 L-8.07 -2.16 L-8.07 -2.94 L-8 -3.73 L-7.84 -4.53 L-7.57 -5.3 L-7.17 -6.02 L-6.65 -6.65 L-6.02 -7.17 L-5.3 -7.57 L-4.53 -7.84 L-3.73 -8 L-2.94 -8.07 L-2.16 -8.07 L-1.42 -8.05 L-0.7 -8.02 L-0 -8.01 L0.7 -8.02 L1.42 -8.05 L2.16 -8.07 L2.94 -8.07 L3.73 -8 L4.53 -7.84 L5.3 -7.57 L6.02 -7.17 L6.65 -6.65 L7.17 -6.02 L7.57 -5.3 L7.84 -4.53 L8 -3.73 L8.07 -2.94 L8.07 -2.16 L8.05 -1.42 L8.02 -0.7Z M4.77 0 L4.78 0.42 L4.79 0.85 L4.81 1.29 L4.8 1.75 L4.76 2.22 L4.67 2.7 L4.51 3.16 L4.27 3.58 L3.96 3.96 L3.58 4.27 L3.16 4.51 L2.7 4.67 L2.22 4.76 L1.75 4.8 L1.29 4.81 L0.85 4.79 L0.42 4.78 L0 4.77 L-0.42 4.78 L-0.85 4.79 L-1.29 4.81 L-1.75 4.8 L-2.22 4.76 L-2.7 4.67 L-3.16 4.51 L-3.58 4.27 L-3.96 3.96 L-4.27 3.58 L-4.51 3.16 L-4.67 2.7 L-4.76 2.22 L-4.8 1.75 L-4.81 1.29 L-4.79 0.85 L-4.78 0.42 L-4.77 0 L-4.78 -0.42 L-4.79 -0.85 L-4.81 -1.29 L-4.8 -1.75 L-4.76 -2.22 L-4.67 -2.7 L-4.51 -3.16 L-4.27 -3.58 L-3.96 -3.96 L-3.58 -4.27 L-3.16 -4.51 L-2.7 -4.67 L-2.22 -4.76 L-1.75 -4.8 L-1.29 -4.81 L-0.85 -4.79 L-0.42 -4.78 L-0 -4.77 L0.42 -4.78 L0.85 -4.79 L1.29 -4.81 L1.75 -4.8 L2.22 -4.76 L2.7 -4.67 L3.16 -4.51 L3.58 -4.27 L3.96 -3.96 L4.27 -3.58 L4.51 -3.16 L4.67 -2.7 L4.76 -2.22 L4.8 -1.75 L4.81 -1.29 L4.79 -0.85 L4.78 -0.42Z" fill="#3da04b" fill-rule="evenodd" stroke="#3da04b" stroke-width="0.4" stroke-linejoin="round"/></g><g transform="translate(269.7 262.9) rotate(35)"><path d="M8.61 -8.61 A9 9 0 0 1 8.61 8.61 A9 9 0 0 1 -8.61 8.61 A9 9 0 0 1 -8.61 -8.61 A9 9 0 0 1 8.61 -8.61 Z M4.84 -4.84 A4.99 4.99 0 0 1 4.84 4.84 A4.99 4.99 0 0 1 -4.84 4.84 A4.99 4.99 0 0 1 -4.84 -4.84 A4.99 4.99 0 0 1 4.84 -4.84 Z" fill="#ee2d24" fill-rule="evenodd" stroke="#ee2d24" stroke-width="0.4" stroke-linejoin="round"/></g><g transform="translate(245.4 273.3) rotate(20)"><path d="M7.84 0 L7.85 0.69 L7.87 1.39 L7.9 2.12 L7.89 2.87 L7.83 3.65 L7.67 4.43 L7.41 5.19 L7.02 5.89 L6.51 6.51 L5.89 7.02 L5.19 7.41 L4.43 7.67 L3.65 7.83 L2.87 7.89 L2.12 7.9 L1.39 7.87 L0.69 7.85 L0 7.84 L-0.69 7.85 L-1.39 7.87 L-2.12 7.9 L-2.87 7.89 L-3.65 7.83 L-4.43 7.67 L-5.19 7.41 L-5.89 7.02 L-6.51 6.51 L-7.02 5.89 L-7.41 5.19 L-7.67 4.43 L-7.83 3.65 L-7.89 2.87 L-7.9 2.12 L-7.87 1.39 L-7.85 0.69 L-7.84 0 L-7.85 -0.69 L-7.87 -1.39 L-7.9 -2.12 L-7.89 -2.87 L-7.83 -3.65 L-7.67 -4.43 L-7.41 -5.19 L-7.02 -5.89 L-6.51 -6.51 L-5.89 -7.02 L-5.19 -7.41 L-4.43 -7.67 L-3.65 -7.83 L-2.87 -7.89 L-2.12 -7.9 L-1.39 -7.87 L-0.69 -7.85 L-0 -7.84 L0.69 -7.85 L1.39 -7.87 L2.12 -7.9 L2.87 -7.89 L3.65 -7.83 L4.43 -7.67 L5.19 -7.41 L5.89 -7.02 L6.51 -6.51 L7.02 -5.89 L7.41 -5.19 L7.67 -4.43 L7.83 -3.65 L7.89 -2.87 L7.9 -2.12 L7.87 -1.39 L7.85 -0.69Z M4.69 0 L4.69 0.41 L4.71 0.83 L4.72 1.27 L4.72 1.72 L4.68 2.18 L4.59 2.65 L4.43 3.1 L4.19 3.52 L3.89 3.89 L3.52 4.19 L3.1 4.43 L2.65 4.59 L2.18 4.68 L1.72 4.72 L1.27 4.72 L0.83 4.71 L0.41 4.69 L0 4.69 L-0.41 4.69 L-0.83 4.71 L-1.27 4.72 L-1.72 4.72 L-2.18 4.68 L-2.65 4.59 L-3.1 4.43 L-3.52 4.19 L-3.89 3.89 L-4.19 3.52 L-4.43 3.1 L-4.59 2.65 L-4.68 2.18 L-4.72 1.72 L-4.72 1.27 L-4.71 0.83 L-4.69 0.41 L-4.69 0 L-4.69 -0.41 L-4.71 -0.83 L-4.72 -1.27 L-4.72 -1.72 L-4.68 -2.18 L-4.59 -2.65 L-4.43 -3.1 L-4.19 -3.52 L-3.89 -3.89 L-3.52 -4.19 L-3.1 -4.43 L-2.65 -4.59 L-2.18 -4.68 L-1.72 -4.72 L-1.27 -4.72 L-0.83 -4.71 L-0.41 -4.69 L-0 -4.69 L0.41 -4.69 L0.83 -4.71 L1.27 -4.72 L1.72 -4.72 L2.18 -4.68 L2.65 -4.59 L3.1 -4.43 L3.52 -4.19 L3.89 -3.89 L4.19 -3.52 L4.43 -3.1 L4.59 -2.65 L4.68 -2.18 L4.72 -1.72 L4.72 -1.27 L4.71 -0.83 L4.69 -0.41Z" fill="#3da04b" fill-rule="evenodd" stroke="#3da04b" stroke-width="0.4" stroke-linejoin="round"/></g><g transform="translate(240.9 245.9)"><path d="M2.26 7.15 A7.5 7.5 0 1 1 2.26 -7.15" fill="none" stroke="#f4f6fa" stroke-width="2.6" stroke-linecap="butt"/><path d="M2.26 7.15 A7.5 7.5 0 1 1 2.26 -7.15" fill="none" stroke="#cfd8e6" stroke-width="1.3" stroke-dasharray="1.4 1.4"/></g><g transform="translate(294.8 269.4)"><path d="M0.75 4.23 A4.3 4.3 0 1 1 0.75 -4.23" fill="none" stroke="#f4f6fa" stroke-width="2.4" stroke-linecap="butt"/><path d="M0.75 4.23 A4.3 4.3 0 1 1 0.75 -4.23" fill="none" stroke="#cfd8e6" stroke-width="1.2" stroke-dasharray="1.4 1.4"/></g></g><g id="sec7" clip-path="url(#clip7)"><circle cx="305.5" cy="274.0" r="138.7" fill="#f2952b"/><circle cx="305.5" cy="274.0" r="137.2" fill="#fbab45"/><circle cx="305.5" cy="274.0" r="122.0" fill="#f39c31"/><circle cx="305.5" cy="274.0" r="117.0" fill="#fbb041"/><g transform="translate(291.6 178.4)"><circle r="13.8" fill="#a8222b"/><circle r="12.83" fill="#b7272f"/><circle cx="-0.97" cy="-8.42" r="2.07" fill="#fadcdb"/><circle cx="6.49" cy="-6.35" r="1.93" fill="#fadcdb"/><circle cx="-8.42" cy="-4" r="1.52" fill="#fadcdb"/><circle cx="10.49" cy="-0.83" r="1.38" fill="#fadcdb"/><circle cx="-3.04" cy="0" r="1.52" fill="#fadcdb"/><circle cx="3.31" cy="1.24" r="0.97" fill="#fadcdb"/><circle cx="-8" cy="4.97" r="1.1" fill="#fadcdb"/><circle cx="6.49" cy="6.76" r="2.07" fill="#fadcdb"/><circle cx="-1.66" cy="8" r="2.07" fill="#fadcdb"/><circle cx="1.38" cy="-4.14" r="0.69" fill="#fadcdb"/><circle cx="-4.83" cy="9.94" r="0.69" fill="#fadcdb"/></g><g transform="translate(251.7 196.2) rotate(-100)"><circle r="14.2" fill="#a8222b"/><circle r="13.21" fill="#b7272f"/><circle cx="-0.99" cy="-8.66" r="2.13" fill="#fadcdb"/><circle cx="6.67" cy="-6.53" r="1.99" fill="#fadcdb"/><circle cx="-8.66" cy="-4.12" r="1.56" fill="#fadcdb"/><circle cx="10.79" cy="-0.85" r="1.42" fill="#fadcdb"/><circle cx="-3.12" cy="0" r="1.56" fill="#fadcdb"/><circle cx="3.41" cy="1.28" r="0.99" fill="#fadcdb"/><circle cx="-8.24" cy="5.11" r="1.14" fill="#fadcdb"/><circle cx="6.67" cy="6.96" r="2.13" fill="#fadcdb"/><circle cx="-1.7" cy="8.24" r="2.13" fill="#fadcdb"/><circle cx="1.42" cy="-4.26" r="0.71" fill="#fadcdb"/><circle cx="-4.97" cy="10.22" r="0.71" fill="#fadcdb"/></g><g transform="translate(284.7 217.4) rotate(140)"><circle r="14.1" fill="#a8222b"/><circle r="13.11" fill="#b7272f"/><circle cx="-0.99" cy="-8.6" r="2.11" fill="#fadcdb"/><circle cx="6.63" cy="-6.49" r="1.97" fill="#fadcdb"/><circle cx="-8.6" cy="-4.09" r="1.55" fill="#fadcdb"/><circle cx="10.72" cy="-0.85" r="1.41" fill="#fadcdb"/><circle cx="-3.1" cy="0" r="1.55" fill="#fadcdb"/><circle cx="3.38" cy="1.27" r="0.99" fill="#fadcdb"/><circle cx="-8.18" cy="5.08" r="1.13" fill="#fadcdb"/><circle cx="6.63" cy="6.91" r="2.11" fill="#fadcdb"/><circle cx="-1.69" cy="8.18" r="2.11" fill="#fadcdb"/><circle cx="1.41" cy="-4.23" r="0.71" fill="#fadcdb"/><circle cx="-4.93" cy="10.15" r="0.71" fill="#fadcdb"/></g><g transform="translate(300 254.5) rotate(120)"><circle r="12.6" fill="#a8222b"/><circle r="11.72" fill="#b7272f"/><circle cx="-0.88" cy="-7.69" r="1.89" fill="#fadcdb"/><circle cx="5.92" cy="-5.8" r="1.76" fill="#fadcdb"/><circle cx="-7.69" cy="-3.65" r="1.39" fill="#fadcdb"/><circle cx="9.58" cy="-0.76" r="1.26" fill="#fadcdb"/><circle cx="-2.77" cy="0" r="1.39" fill="#fadcdb"/><circle cx="3.02" cy="1.13" r="0.88" fill="#fadcdb"/><circle cx="-7.31" cy="4.54" r="1.01" fill="#fadcdb"/><circle cx="5.92" cy="6.17" r="1.89" fill="#fadcdb"/><circle cx="-1.51" cy="7.31" r="1.89" fill="#fadcdb"/><circle cx="1.26" cy="-3.78" r="0.63" fill="#fadcdb"/><circle cx="-4.41" cy="9.07" r="0.63" fill="#fadcdb"/></g><circle cx="275.5" cy="194.5" r="4.2" fill="#2f3648"/><circle cx="275.5" cy="194.5" r="2.1" fill="#475069"/><circle cx="282.2" cy="239.8" r="4.2" fill="#2f3648"/><circle cx="282.2" cy="239.8" r="2.1" fill="#475069"/><g transform="translate(268.5 176.5) rotate(192) scale(0.85)"><path d="M0 -8 C4.5 -5.5 6 -1 5 3 C4 6.5 1.5 7.5 0 7.5 C-1.5 7.5 -4 6.5 -5 3 C-6 -1 -4.5 -5.5 0 -8Z" fill="#4c9c49"/><path d="M0 -8 C4.5 -5.5 6 -1 5 3 C4 6.5 1.5 7.5 0 7.5Z" fill="#3f8a3f" opacity=".55"/><path d="M0 6 L0 11.5" stroke="#4c9c49" stroke-width="1.1" fill="none" stroke-linecap="round"/></g><g transform="translate(301.4 197.6) rotate(70) scale(0.8)"><path d="M0 -8 C4.5 -5.5 6 -1 5 3 C4 6.5 1.5 7.5 0 7.5 C-1.5 7.5 -4 6.5 -5 3 C-6 -1 -4.5 -5.5 0 -8Z" fill="#4c9c49"/><path d="M0 -8 C4.5 -5.5 6 -1 5 3 C4 6.5 1.5 7.5 0 7.5Z" fill="#3f8a3f" opacity=".55"/><path d="M0 6 L0 11.5" stroke="#4c9c49" stroke-width="1.1" fill="none" stroke-linecap="round"/></g><g transform="translate(256.5 218.5) rotate(-85) scale(0.9)"><path d="M0 -8 C4.5 -5.5 6 -1 5 3 C4 6.5 1.5 7.5 0 7.5 C-1.5 7.5 -4 6.5 -5 3 C-6 -1 -4.5 -5.5 0 -8Z" fill="#4c9c49"/><path d="M0 -8 C4.5 -5.5 6 -1 5 3 C4 6.5 1.5 7.5 0 7.5Z" fill="#3f8a3f" opacity=".55"/><path d="M0 6 L0 11.5" stroke="#4c9c49" stroke-width="1.1" fill="none" stroke-linecap="round"/></g><g transform="translate(302.5 231) rotate(40) scale(0.9)"><path d="M0 -8 C4.5 -5.5 6 -1 5 3 C4 6.5 1.5 7.5 0 7.5 C-1.5 7.5 -4 6.5 -5 3 C-6 -1 -4.5 -5.5 0 -8Z" fill="#4c9c49"/><path d="M0 -8 C4.5 -5.5 6 -1 5 3 C4 6.5 1.5 7.5 0 7.5Z" fill="#3f8a3f" opacity=".55"/><path d="M0 6 L0 11.5" stroke="#4c9c49" stroke-width="1.1" fill="none" stroke-linecap="round"/></g></g>
</defs>
<g id="banner">
<polygon points="161,40.4 217.8,40.4 217.8,80.2 161,80.2 177.8,60.2" fill="#ef8b22"/>
<polygon points="450,40.4 393.2,40.4 393.2,80.2 450,80.2 433.3,60.2" fill="#ef8b22"/>
<polygon points="195,70.5 217.8,70.5 217.8,79.4" fill="#be2a26"/>
<polygon points="416,70.5 393.2,70.5 393.2,79.4" fill="#be2a26"/>
<rect x="195" y="33.1" width="221" height="37.9" fill="#f9971f"/>
<text x="305.7" y="60.0" font-size="21.3" textLength="119.5" lengthAdjust="spacingAndGlyphs" text-anchor="middle" fill="#fff8ec" stroke="#fff8ec" stroke-width="0.3">PIZZA INFOGRAPHICS</text>
</g>
<g id="labels">
<circle cx="45.2" cy="117" r="12.6" fill="#bf2c22"/>
<text x="45.4" y="123.6" font-size="18.8" textLength="6.3" lengthAdjust="spacingAndGlyphs" text-anchor="middle" fill="#fff" font-weight="bold">1</text>
<text x="69.5" y="122.5" font-size="14.2" textLength="45.6" lengthAdjust="spacingAndGlyphs" text-anchor="start" fill="#231f20" stroke="#231f20" stroke-width="0.3">PEPPERONI</text>
<circle cx="45.2" cy="161.6" r="12.6" fill="#bf2c22"/>
<text x="45.4" y="168.2" font-size="18.8" textLength="6.3" lengthAdjust="spacingAndGlyphs" text-anchor="middle" fill="#fff" font-weight="bold">2</text>
<text x="69.5" y="167.1" font-size="14.2" textLength="37.3" lengthAdjust="spacingAndGlyphs" text-anchor="start" fill="#231f20" stroke="#231f20" stroke-width="0.3">SAUSAGE</text>
<circle cx="45.2" cy="205.8" r="12.6" fill="#bf2c22"/>
<text x="45.4" y="212.4" font-size="18.8" textLength="6.3" lengthAdjust="spacingAndGlyphs" text-anchor="middle" fill="#fff" font-weight="bold">3</text>
<text x="69.5" y="211.4" font-size="14.2" textLength="49.5" lengthAdjust="spacingAndGlyphs" text-anchor="start" fill="#231f20" stroke="#231f20" stroke-width="0.3">MUSHROOM</text>
<circle cx="45.2" cy="250.1" r="12.6" fill="#bf2c22"/>
<text x="45.4" y="256.7" font-size="18.8" textLength="6.3" lengthAdjust="spacingAndGlyphs" text-anchor="middle" fill="#fff" font-weight="bold">4</text>
<text x="69.5" y="255.9" font-size="14.2" textLength="34.8" lengthAdjust="spacingAndGlyphs" text-anchor="start" fill="#231f20" stroke="#231f20" stroke-width="0.3">MEXICAN</text>
<circle cx="45.2" cy="294.3" r="12.6" fill="#bf2c22"/>
<text x="45.4" y="300.90000000000003" font-size="18.8" textLength="6.3" lengthAdjust="spacingAndGlyphs" text-anchor="middle" fill="#fff" font-weight="bold">5</text>
<text x="69.5" y="300.6" font-size="14.2" textLength="29.4" lengthAdjust="spacingAndGlyphs" text-anchor="start" fill="#231f20" stroke="#231f20" stroke-width="0.3">CHEESE</text>
<circle cx="45.2" cy="338.6" r="12.6" fill="#bf2c22"/>
<text x="45.4" y="345.20000000000005" font-size="18.8" textLength="6.3" lengthAdjust="spacingAndGlyphs" text-anchor="middle" fill="#fff" font-weight="bold">6</text>
<text x="69.5" y="345.4" font-size="14.2" textLength="39.5" lengthAdjust="spacingAndGlyphs" text-anchor="start" fill="#231f20" stroke="#231f20" stroke-width="0.3">HAWAIIAN</text>
<circle cx="45.2" cy="383.3" r="12.6" fill="#bf2c22"/>
<text x="45.4" y="389.90000000000003" font-size="18.8" textLength="6.3" lengthAdjust="spacingAndGlyphs" text-anchor="middle" fill="#fff" font-weight="bold">7</text>
<text x="69.5" y="390.2" font-size="14.2" textLength="52.2" lengthAdjust="spacingAndGlyphs" text-anchor="start" fill="#231f20" stroke="#231f20" stroke-width="0.3">MARGHERITA</text>
<circle cx="45.2" cy="427.8" r="12.6" fill="#bf2c22"/>
<text x="45.4" y="434.40000000000003" font-size="18.8" textLength="6.3" lengthAdjust="spacingAndGlyphs" text-anchor="middle" fill="#fff" font-weight="bold">8</text>
<text x="69.5" y="434.7" font-size="14.2" textLength="37.3" lengthAdjust="spacingAndGlyphs" text-anchor="start" fill="#231f20" stroke="#231f20" stroke-width="0.3">SEAFOOD</text>
</g>
<g id="pizza">
<use href="#sec0"/>
<use href="#sec1"/>
<use href="#sec2"/>
<use href="#sec3"/>
<use href="#sec4"/>
<use href="#sec5"/>
<use href="#sec6"/>
<use href="#sec7"/>
</g>
<g id="lines" fill="none" stroke="#231f20" stroke-width="1.3">
<path d="M128.6 116.6 H305.5 V429.5 H128.6"/>
<path d="M128.6 163.1 H194.6 L415.8 384.3 H467"/>
<path d="M128.6 384.9 H194.60000000000002 L461.7 117.8 H528.2"/>
<path d="M162 274.0 H449.5"/>
<path d="M128.6 208 H165"/>
<path d="M128.6 252.4 H156.3"/>
<path d="M128.6 297.1 H156"/>
<path d="M128.6 341.4 H161.7"/>
</g>
<text x="538.2" y="124.3" font-size="14.2" textLength="35" lengthAdjust="spacingAndGlyphs" text-anchor="start" fill="#231f20" stroke="#231f20" stroke-width="0.3">TOPPING</text>
<g id="icons">
<g transform="translate(475 154.6)"><path d="M-6.3 -8.4 L6.3 -8.4 L6.3 8.4 L-6.3 8.4 L-6.3 -1.5 A2.3 2.3 0 0 0 -6.3 -6.1Z" fill="#f9b233"/><circle cx="2.6" cy="-4.6" r="1.9" fill="#fcca66"/><circle cx="-1.6" cy="1.8" r="1.5" fill="#fcca66"/><circle cx="3.4" cy="4.4" r="2.1" fill="#fcca66"/><circle cx="-3.4" cy="5.8" r="1.1" fill="#fcca66"/><circle cx="-1.5" cy="-6" r="0.9" fill="#fcca66"/></g><g transform="translate(508.2 154.4) rotate(-90)"><path d="M-9.8 0 A9.8 9.8 0 0 1 9.8 0 Z" fill="#f4694a"/><path d="M-8.62 0 A8.62 8.62 0 0 1 8.62 0 Z" fill="#ee3a28"/><path d="M-4.12 0 A4.12 4.12 0 0 1 4.12 0 Z" fill="#f58a63"/><ellipse cx="-6.06" cy="-1.62" rx="0.59" ry="0.98" fill="#fbb58a" transform="rotate(-75 -6.06 -1.62)"/><ellipse cx="-4.43" cy="-4.43" rx="0.59" ry="0.98" fill="#fbb58a" transform="rotate(-45 -4.43 -4.43)"/><ellipse cx="-1.62" cy="-6.06" rx="0.59" ry="0.98" fill="#fbb58a" transform="rotate(-15 -1.62 -6.06)"/><ellipse cx="1.62" cy="-6.06" rx="0.59" ry="0.98" fill="#fbb58a" transform="rotate(15 1.62 -6.06)"/><ellipse cx="4.43" cy="-4.43" rx="0.59" ry="0.98" fill="#fbb58a" transform="rotate(45 4.43 -4.43)"/><ellipse cx="6.06" cy="-1.62" rx="0.59" ry="0.98" fill="#fbb58a" transform="rotate(75 6.06 -1.62)"/></g><g transform="translate(530.6 154.9) scale(0.86)"><path d="M-2.6 1 L-3.2 6.2 C-3.3 7.6 3.3 7.6 3.2 6.2 L2.6 1Z" fill="#a98c68"/><path d="M-8.5 1.2 C-9 -4.5 -4.5 -7.5 0 -7.5 C4.5 -7.5 9 -4.5 8.5 1.2 C8.4 2.6 5.5 2.8 3.2 2 C1.5 1.4 -1.5 1.4 -3.2 2 C-5.5 2.8 -8.4 2.6 -8.5 1.2Z" fill="#a98c68"/><path d="M-5.5 -3 C-4 -5.5 1 -6.3 4 -4.5 C1 -5 -3 -4.5 -5.5 -3Z" fill="#97794f"/></g><g transform="translate(558.3 154.1)"><circle r="8.4" fill="#a8222b"/><circle r="7.81" fill="#b7272f"/><circle cx="-0.59" cy="-5.12" r="1.26" fill="#fadcdb"/><circle cx="3.95" cy="-3.86" r="1.18" fill="#fadcdb"/><circle cx="-5.12" cy="-2.44" r="0.92" fill="#fadcdb"/><circle cx="6.38" cy="-0.5" r="0.84" fill="#fadcdb"/><circle cx="-1.85" cy="0" r="0.92" fill="#fadcdb"/><circle cx="2.02" cy="0.76" r="0.59" fill="#fadcdb"/><circle cx="-4.87" cy="3.02" r="0.67" fill="#fadcdb"/><circle cx="3.95" cy="4.12" r="1.26" fill="#fadcdb"/><circle cx="-1.01" cy="4.87" r="1.26" fill="#fadcdb"/><circle cx="0.84" cy="-2.52" r="0.42" fill="#fadcdb"/><circle cx="-2.94" cy="6.05" r="0.42" fill="#fadcdb"/></g><g transform="translate(475.1 182.3)"><path d="M0 -8.6 L1.3 -7.2 L2 -5.6 L1.7 -4.6 L3.9 -5.4 L3.4 -3.4 L2.9 -2.4 L5 -2.8 L4.3 -0.9 L3.4 0.2 L4.9 0.6 L3.4 2 L1.6 2.8 L0.55 3.6 L0.5 8.6 L-0.5 8.6 L-0.55 3.6 L-1.6 2.8 L-3.4 2 L-4.9 0.6 L-3.4 0.2 L-4.3 -0.9 L-5 -2.8 L-2.9 -2.4 L-3.4 -3.4 L-3.9 -5.4 L-1.7 -4.6 L-2 -5.6 L-1.3 -7.2 L0 -8.6Z" fill="#2e8b45" stroke="#2e8b45" stroke-width="0.5" stroke-linejoin="round"/></g><g transform="translate(503.2 182.3)"><path d="M-4 -8.2 C-3 -5 -5 -3 -4 0 C-3 3 -5 5 -4 8.2 L4 8.2 C5 5 3 3 4 0 C5 -3 3 -5 4 -8.2Z" fill="#f8b2c0"/><path d="M-1.6 -8.2 C-0.6 -5 -2.6 -3 -1.6 0 C-0.6 3 -2.6 5 -1.6 8.2" stroke="#f48098" stroke-width="1.3" fill="none"/><path d="M1.8 -8.2 C2.8 -5 0.8 -3 1.8 0 C2.8 3 0.8 5 1.8 8.2" stroke="#fbd3da" stroke-width="1.2" fill="none"/></g><g transform="translate(530.4 182.4)"><path d="M4.67 -4.67 A4.81 4.81 0 0 1 4.67 4.67 A4.81 4.81 0 0 1 -4.67 4.67 A4.81 4.81 0 0 1 -4.67 -4.67 A4.81 4.81 0 0 1 4.67 -4.67 Z M3.25 -3.25 A3.3 3.3 0 0 1 3.25 3.25 A3.3 3.3 0 0 1 -3.25 3.25 A3.3 3.3 0 0 1 -3.25 -3.25 A3.3 3.3 0 0 1 3.25 -3.25 Z" fill="#e8281f" fill-rule="evenodd" stroke="#e8281f" stroke-width="0.4" stroke-linejoin="round"/></g><g transform="translate(558.6 180.9) scale(0.86)"><path d="M0 -8 C4.5 -5.5 6 -1 5 3 C4 6.5 1.5 7.5 0 7.5 C-1.5 7.5 -4 6.5 -5 3 C-6 -1 -4.5 -5.5 0 -8Z" fill="#7caa3e"/><path d="M0 -8 C4.5 -5.5 6 -1 5 3 C4 6.5 1.5 7.5 0 7.5Z" fill="#5f9230" opacity=".55"/><path d="M0 6 L0 11.5" stroke="#7caa3e" stroke-width="1.1" fill="none" stroke-linecap="round"/></g><g transform="translate(475.2 210.3)"><path d="M0 -9.3 C4 -5 5 -1 3.6 3 C2.8 5.3 1 6.3 0 6.6 C-1 6.3 -2.8 5.3 -3.6 3 C-5 -1 -4 -5 0 -9.3Z" fill="#a88a5c"/><path d="M0 -9.3 C1.6 -4 1.6 2 0 6.6 C-1.6 2 -1.6 -4 0 -9.3Z" fill="#8e7248"/><path d="M-0.5 6 L-0.5 8.6 L-2.4 9.6 L2.4 9.6 L0.5 8.6 L0.5 6Z" fill="#a88a5c"/></g><ellipse cx="502.8" cy="210.60000000000002" rx="5.1" ry="6" fill="#7aa63a"/><ellipse cx="502.8" cy="210.60000000000002" rx="2.9" ry="3.8" fill="#8bb548"/><g transform="translate(535.5 210.3) rotate(-90)"><clipPath id="hc56427"><path d="M-9.6 0 A9.6 9.6 0 0 1 9.6 0 Z"/></clipPath><path d="M-9.6 0 A9.6 9.6 0 0 1 9.6 0 Z" fill="#f0899b"/><g clip-path="url(#hc56427)"><path d="M-8.64 0 L-3.02 -9.6" stroke="#f6a6b4" stroke-width="1.25" fill="none" opacity=".75"/><path d="M-5.76 0 L-2.02 -9.6" stroke="#f6a6b4" stroke-width="1.25" fill="none" opacity=".75"/><path d="M-2.88 0 L-1.01 -9.6" stroke="#f6a6b4" stroke-width="1.25" fill="none" opacity=".75"/><path d="M0 0 L0 -9.6" stroke="#f6a6b4" stroke-width="1.25" fill="none" opacity=".75"/><path d="M2.88 0 L1.01 -9.6" stroke="#f6a6b4" stroke-width="1.25" fill="none" opacity=".75"/><path d="M5.76 0 L2.02 -9.6" stroke="#f6a6b4" stroke-width="1.25" fill="none" opacity=".75"/><path d="M8.64 0 L3.02 -9.6" stroke="#f6a6b4" stroke-width="1.25" fill="none" opacity=".75"/></g></g><ellipse cx="558" cy="210.2" rx="5.75" ry="6.85" fill="none" stroke="#f2b58f" stroke-width="2.5"/><g transform="translate(480.2 238)"><path d="M0 10 A10 10 0 0 1 -0 -10 L-0 -3.9 A3.9 3.9 0 0 0 0 3.9 Z" fill="#f9b233" /><path d="M-2.59 8.83 L-1.32 4.51" stroke="#fcd070" stroke-width="1.2" fill="none"/><path d="M-4.97 7.74 L-2.54 3.95" stroke="#fcd070" stroke-width="1.2" fill="none"/><path d="M-6.95 6.02 L-3.55 3.08" stroke="#fcd070" stroke-width="1.2" fill="none"/><path d="M-8.37 3.82 L-4.28 1.95" stroke="#fcd070" stroke-width="1.2" fill="none"/><path d="M-9.11 1.31 L-4.65 0.67" stroke="#fcd070" stroke-width="1.2" fill="none"/><path d="M-9.11 -1.31 L-4.65 -0.67" stroke="#fcd070" stroke-width="1.2" fill="none"/><path d="M-8.37 -3.82 L-4.28 -1.95" stroke="#fcd070" stroke-width="1.2" fill="none"/><path d="M-6.95 -6.02 L-3.55 -3.08" stroke="#fcd070" stroke-width="1.2" fill="none"/><path d="M-4.97 -7.74 L-2.54 -3.95" stroke="#fcd070" stroke-width="1.2" fill="none"/><path d="M-2.59 -8.83 L-1.32 -4.51" stroke="#fcd070" stroke-width="1.2" fill="none"/></g><g transform="translate(507.6 237.8) rotate(180)"><path d="M0 -9.3 A9.3 9.3 0 0 1 0 9.3 A11.76 11.76 0 0 0 0 -9.3Z" fill="#b3222d"/></g><g transform="translate(535.6 237.8)"><path d="M-1.88 7 A7.25 7.25 0 0 1 -1.88 -7" fill="none" stroke="#d9dbe7" stroke-width="2.7" stroke-linecap="butt"/><path d="M-1.88 7 A7.25 7.25 0 0 1 -1.88 -7" fill="none" stroke="#b9bdd2" stroke-width="1.35" stroke-dasharray="1.4 1.4"/></g><g transform="translate(558.1 238.1)"><path d="M4.84 -4.84 A4.99 4.99 0 0 1 4.84 4.84 A4.99 4.99 0 0 1 -4.84 4.84 A4.99 4.99 0 0 1 -4.84 -4.84 A4.99 4.99 0 0 1 4.84 -4.84 Z M3.36 -3.36 A3.41 3.41 0 0 1 3.36 3.36 A3.41 3.41 0 0 1 -3.36 3.36 A3.41 3.41 0 0 1 -3.36 -3.36 A3.41 3.41 0 0 1 3.36 -3.36 Z" fill="#2a8f38" fill-rule="evenodd" stroke="#2a8f38" stroke-width="0.4" stroke-linejoin="round"/></g><ellipse cx="475.59999999999997" cy="266.0" rx="5.1" ry="6.3" fill="#38383c"/><ellipse cx="475.59999999999997" cy="266.0" rx="2.7" ry="3.6" fill="#4a4a50"/><g transform="translate(507.8 265.9) rotate(180)"><path d="M0 -8.8 A8.8 8.8 0 0 1 0 8.8 A11.44 11.44 0 0 0 0 -8.8Z" fill="#f0929a"/></g><rect x="525.3" y="257" width="11.6" height="17" fill="#f4743a"/><path d="M525.3 260.5 L531.1 258.3 L536.9 260.5" fill="none" stroke="#f89a6a" stroke-width="0.9"/><path d="M525.3 264.5 L531.1 262.3 L536.9 264.5" fill="none" stroke="#f89a6a" stroke-width="0.9"/><path d="M525.3 268.5 L531.1 266.3 L536.9 268.5" fill="none" stroke="#f89a6a" stroke-width="0.9"/><path d="M525.3 272.5 L531.1 270.3 L536.9 272.5" fill="none" stroke="#f89a6a" stroke-width="0.9"/><g transform="translate(558.9 265.6)"><path d="M2.6 -6.6 C-3.6 -4.6 -5.2 2.5 2.4 8 C-0.6 3.2 0.4 -2 4 -4.6 C4.6 -5.6 3.8 -7 2.6 -6.6Z" fill="#e8291c"/><path d="M3.2 -6.2 L4.6 -8.4" stroke="#5a7a2a" stroke-width="1" fill="none" stroke-linecap="round"/></g>
</g>
<g id="pie"><path d="M520 370 L520 316 A54 54 0 0 1 569.22 392.22 Z" fill="#f9b5b6" stroke="#fff" stroke-width="1.3" stroke-linejoin="round"/><path d="M520 370 L569.22 392.22 A54 54 0 0 1 506.02 422.16 Z" fill="#fec88e" stroke="#fff" stroke-width="1.3" stroke-linejoin="round"/><path d="M520 370 L506.02 422.16 A54 54 0 0 1 476.31 401.74 Z" fill="#c8dc8c" stroke="#fff" stroke-width="1.3" stroke-linejoin="round"/><path d="M520 370 L476.31 401.74 A54 54 0 0 1 475.07 340.04 Z" fill="#fba67a" stroke="#fff" stroke-width="1.3" stroke-linejoin="round"/><path d="M520 370 L475.07 340.04 A54 54 0 0 1 520 316 Z" fill="#d9b58f" stroke="#fff" stroke-width="1.3" stroke-linejoin="round"/><g transform="translate(547.5 352.4)"><circle r="11.3" fill="#a8222b"/><circle r="10.51" fill="#b7272f"/><circle cx="-0.79" cy="-6.89" r="1.7" fill="#fadcdb"/><circle cx="5.31" cy="-5.2" r="1.58" fill="#fadcdb"/><circle cx="-6.89" cy="-3.28" r="1.24" fill="#fadcdb"/><circle cx="8.59" cy="-0.68" r="1.13" fill="#fadcdb"/><circle cx="-2.49" cy="0" r="1.24" fill="#fadcdb"/><circle cx="2.71" cy="1.02" r="0.79" fill="#fadcdb"/><circle cx="-6.55" cy="4.07" r="0.9" fill="#fadcdb"/><circle cx="5.31" cy="5.54" r="1.7" fill="#fadcdb"/><circle cx="-1.36" cy="6.55" r="1.7" fill="#fadcdb"/><circle cx="1.13" cy="-3.39" r="0.57" fill="#fadcdb"/><circle cx="-3.96" cy="8.14" r="0.57" fill="#fadcdb"/></g><g transform="translate(532.9 399.8) scale(1.22 1.33)"><path d="M-6.3 -8.4 L6.3 -8.4 L6.3 8.4 L-6.3 8.4 L-6.3 -1.5 A2.3 2.3 0 0 0 -6.3 -6.1Z" fill="#f9b233"/><circle cx="2.6" cy="-4.6" r="1.9" fill="#fcca66"/><circle cx="-1.6" cy="1.8" r="1.5" fill="#fcca66"/><circle cx="3.4" cy="4.4" r="2.1" fill="#fcca66"/><circle cx="-3.4" cy="5.8" r="1.1" fill="#fcca66"/><circle cx="-1.5" cy="-6" r="0.9" fill="#fcca66"/></g><ellipse cx="499.9" cy="400" rx="6" ry="8" fill="#7aa63a"/><ellipse cx="499.9" cy="400" rx="3.6" ry="5.2" fill="#86b244"/><g transform="translate(488.8 369.3) rotate(180)"><path d="M0 -11.9 A11.9 11.9 0 0 1 0 11.9 A15.47 15.47 0 0 0 0 -11.9Z" fill="#b3222d"/></g><g transform="translate(503.9 337.2) scale(0.93)"><path d="M-2.6 1 L-3.2 6.2 C-3.3 7.6 3.3 7.6 3.2 6.2 L2.6 1Z" fill="#b8976e"/><path d="M-8.5 1.2 C-9 -4.5 -4.5 -7.5 0 -7.5 C4.5 -7.5 9 -4.5 8.5 1.2 C8.4 2.6 5.5 2.8 3.2 2 C1.5 1.4 -1.5 1.4 -3.2 2 C-5.5 2.8 -8.4 2.6 -8.5 1.2Z" fill="#b8976e"/><path d="M-5.5 -3 C-4 -5.5 1 -6.3 4 -4.5 C1 -5 -3 -4.5 -5.5 -3Z" fill="#a68560"/></g></g>
<text x="494" y="315.3" font-size="13.8" textLength="15.5" lengthAdjust="spacingAndGlyphs" text-anchor="middle" fill="#231f20" stroke="#231f20" stroke-width="0.3">33%</text>
<text x="571.2" y="328" font-size="13.8" textLength="15.5" lengthAdjust="spacingAndGlyphs" text-anchor="middle" fill="#231f20" stroke="#231f20" stroke-width="0.3">36%</text>
<text x="450.8" y="372.2" font-size="13.8" textLength="15.5" lengthAdjust="spacingAndGlyphs" text-anchor="middle" fill="#231f20" stroke="#231f20" stroke-width="0.3">28%</text>
<text x="477.6" y="433.6" font-size="13.8" textLength="15.5" lengthAdjust="spacingAndGlyphs" text-anchor="middle" fill="#231f20" stroke="#231f20" stroke-width="0.3">18%</text>
<text x="554.9" y="433.6" font-size="13.8" textLength="15.5" lengthAdjust="spacingAndGlyphs" text-anchor="middle" fill="#231f20" stroke="#231f20" stroke-width="0.3">30%</text>
<g id="slices">
<use href="#sec7" transform="translate(63.4 455) scale(0.5198) rotate(157.5) scale(-1 1) translate(-305.5 -274.0)"/>
<text x="61.85" y="553.4" font-size="12.6" textLength="41.7" lengthAdjust="spacingAndGlyphs" text-anchor="middle" fill="#231f20" stroke="#231f20" stroke-width="0.3">PEPPERONI</text>
<text x="62.85" y="581.7" font-size="22.0" textLength="26.5" lengthAdjust="spacingAndGlyphs" text-anchor="middle" fill="#231f20" stroke="#231f20" stroke-width="0.35">36%</text>
<use href="#sec6" transform="translate(132.6 455) scale(0.5198) rotate(-112.5) translate(-305.5 -274.0)"/>
<text x="132.2" y="553.4" font-size="12.6" textLength="34.4" lengthAdjust="spacingAndGlyphs" text-anchor="middle" fill="#231f20" stroke="#231f20" stroke-width="0.3">SAUSAGE</text>
<text x="133.9" y="581.7" font-size="22.0" textLength="22.6" lengthAdjust="spacingAndGlyphs" text-anchor="middle" fill="#231f20" stroke="#231f20" stroke-width="0.35">31%</text>
<use href="#sec0" transform="translate(201.3 455) scale(0.5198) rotate(-157.5) scale(-1 1) translate(-305.5 -274.0)"/>
<text x="200.9" y="553.4" font-size="12.6" textLength="44.6" lengthAdjust="spacingAndGlyphs" text-anchor="middle" fill="#231f20" stroke="#231f20" stroke-width="0.3">MUSHROOM</text>
<text x="201.25" y="581.7" font-size="22.0" textLength="27.3" lengthAdjust="spacingAndGlyphs" text-anchor="middle" fill="#231f20" stroke="#231f20" stroke-width="0.35">30%</text>
<use href="#sec5" transform="translate(270.1 455) scale(0.5198) rotate(-67.5) translate(-305.5 -274.0)"/>
<text x="270.75" y="553.4" font-size="12.6" textLength="27.5" lengthAdjust="spacingAndGlyphs" text-anchor="middle" fill="#231f20" stroke="#231f20" stroke-width="0.3">CHEESE</text>
<text x="271.95" y="581.7" font-size="22.0" textLength="26.5" lengthAdjust="spacingAndGlyphs" text-anchor="middle" fill="#231f20" stroke="#231f20" stroke-width="0.35">28%</text>
<use href="#sec2" transform="translate(338.9 455) scale(0.5198) rotate(-67.5) scale(-1 1) translate(-305.5 -274.0)"/>
<text x="340.7" y="553.4" font-size="12.6" textLength="48.6" lengthAdjust="spacingAndGlyphs" text-anchor="middle" fill="#231f20" stroke="#231f20" stroke-width="0.3">MARGHERITA</text>
<text x="339.85" y="581.7" font-size="22.0" textLength="26.7" lengthAdjust="spacingAndGlyphs" text-anchor="middle" fill="#231f20" stroke="#231f20" stroke-width="0.35">25%</text>
<use href="#sec4" transform="translate(407.6 455) scale(0.5198) rotate(-22.5) translate(-305.5 -274.0)"/>
<text x="408.8" y="553.4" font-size="12.6" textLength="33.8" lengthAdjust="spacingAndGlyphs" text-anchor="middle" fill="#231f20" stroke="#231f20" stroke-width="0.3">SEAFOOD</text>
<text x="410.3" y="581.7" font-size="22.0" textLength="22.0" lengthAdjust="spacingAndGlyphs" text-anchor="middle" fill="#231f20" stroke="#231f20" stroke-width="0.35">21%</text>
<use href="#sec1" transform="translate(476.3 455) scale(0.5198) rotate(-112.5) scale(-1 1) translate(-305.5 -274.0)"/>
<text x="478.85" y="553.4" font-size="12.6" textLength="36.1" lengthAdjust="spacingAndGlyphs" text-anchor="middle" fill="#231f20" stroke="#231f20" stroke-width="0.3">HAWAIIAN</text>
<text x="480.45" y="581.7" font-size="22.0" textLength="23.5" lengthAdjust="spacingAndGlyphs" text-anchor="middle" fill="#231f20" stroke="#231f20" stroke-width="0.35">18%</text>
<use href="#sec3" transform="translate(545.0 455) scale(0.5198) rotate(-22.5) scale(-1 1) translate(-305.5 -274.0)"/>
<text x="547.85" y="553.4" font-size="12.6" textLength="31.9" lengthAdjust="spacingAndGlyphs" text-anchor="middle" fill="#231f20" stroke="#231f20" stroke-width="0.3">MEXICAN</text>
<text x="549.65" y="581.7" font-size="22.0" textLength="23.3" lengthAdjust="spacingAndGlyphs" text-anchor="middle" fill="#231f20" stroke="#231f20" stroke-width="0.35">15%</text>
</g>
</svg></body></html>
